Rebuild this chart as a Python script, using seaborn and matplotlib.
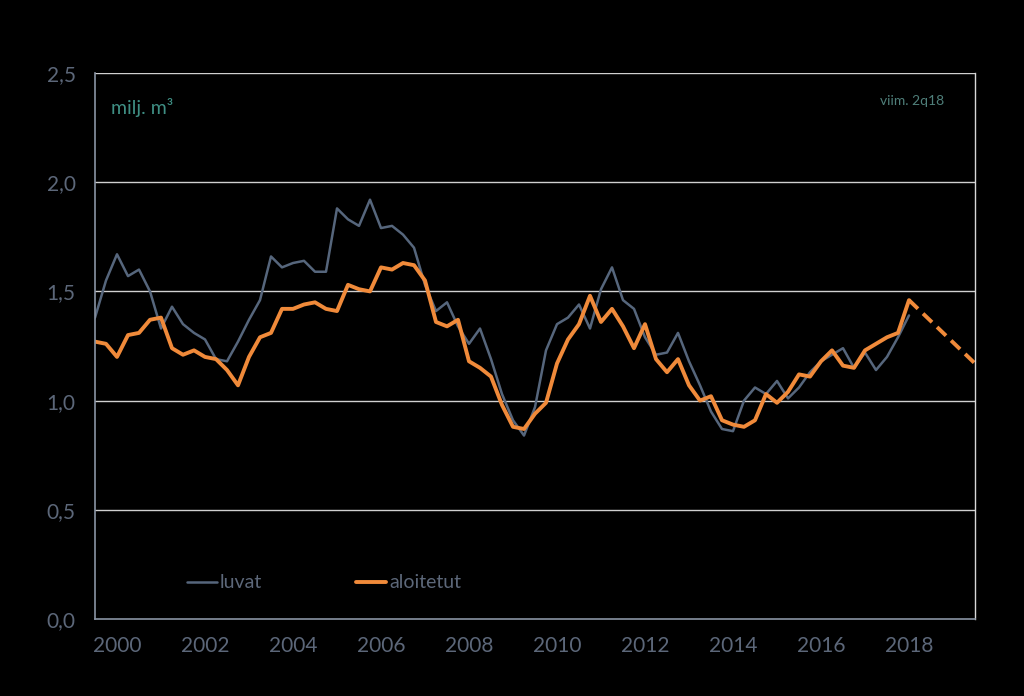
import numpy as np
import pandas as pd
import matplotlib
matplotlib.use("Agg")
import matplotlib.pyplot as plt
import seaborn as sns

# quarterly values, 1q2000 .. 2q2018 (milj. m3)
start_year = 2000
luvat = [1.38, 1.55, 1.67, 1.57, 1.60, 1.50, 1.33, 1.43, 1.35, 1.31,
         1.28, 1.19, 1.18, 1.27, 1.37, 1.46, 1.66, 1.61, 1.63, 1.64,
         1.59, 1.59, 1.88, 1.83, 1.80, 1.92, 1.79, 1.80, 1.76, 1.70,
         1.53, 1.41, 1.45, 1.34, 1.26, 1.33, 1.19, 1.03, 0.91, 0.84,
         0.97, 1.23, 1.35, 1.38, 1.44, 1.33, 1.51, 1.61, 1.46, 1.42,
         1.29, 1.21, 1.22, 1.31, 1.18, 1.07, 0.95, 0.87, 0.86, 1.00,
         1.06, 1.03, 1.09, 1.01, 1.06, 1.13, 1.18, 1.21, 1.24, 1.15,
         1.22, 1.14, 1.20, 1.29, 1.39]
aloitetut = [1.27, 1.26, 1.20, 1.30, 1.31, 1.37, 1.38, 1.24, 1.21, 1.23,
             1.20, 1.19, 1.14, 1.07, 1.20, 1.29, 1.31, 1.42, 1.42, 1.44,
             1.45, 1.42, 1.41, 1.53, 1.51, 1.50, 1.61, 1.60, 1.63, 1.62,
             1.55, 1.36, 1.34, 1.37, 1.18, 1.15, 1.11, 0.98, 0.88, 0.87,
             0.94, 0.99, 1.17, 1.28, 1.35, 1.48, 1.36, 1.42, 1.34, 1.24,
             1.35, 1.19, 1.13, 1.19, 1.07, 1.00, 1.02, 0.91, 0.89, 0.88,
             0.91, 1.03, 0.99, 1.04, 1.12, 1.11, 1.18, 1.23, 1.16, 1.15,
             1.23, 1.26, 1.29, 1.31, 1.46]
# forecast: from 2q18 to end of 2019
ennuste_t = [2018.5, 2020.0]
ennuste = [1.46, 1.17]

year_labels = ["2000", "2002", "2004", "2006", "2008",
               "2010", "2012", "2014", "2016", "2018"]
y_ticks = [0.0, 0.5, 1.0, 1.5, 2.0, 2.5]

t = start_year + 0.25 * np.arange(len(luvat))
df = pd.DataFrame({"t": t, "luvat": luvat, "aloitetut": aloitetut})
df_f = pd.DataFrame({"t": ennuste_t, "v": ennuste})

sns.set_style("dark")
plt.rcParams["font.family"] = ["Lato", "DejaVu Sans"]
plt.rcParams["lines.solid_joinstyle"] = "round"
plt.rcParams["lines.solid_capstyle"] = "round"

grey_line = "#56667c"
orange = "#f08a3a"
txt = "#5c6779"
teal = "#3f8f84"

fig = plt.figure(figsize=(10.24, 6.96), dpi=100, facecolor="black")
ax = fig.add_axes([95 / 1024, 77 / 696, 880 / 1024, 546 / 696])
ax.set_facecolor("black")

sns.lineplot(data=df, x="t", y="luvat", ax=ax, color=grey_line, lw=1.8, label="luvat")
sns.lineplot(data=df, x="t", y="aloitetut", ax=ax, color=orange, lw=2.8, label="aloitetut")
sns.lineplot(data=df_f, x="t", y="v", ax=ax, color=orange, lw=2.8, dashes=False)
ax.lines[-1].set_dashes((3.2, 1.8))

ax.set_xlim(2000, 2020)
ax.set_ylim(0, 2.5)
ax.set_yticks(y_ticks)
ax.set_yticklabels([f"{v:.1f}".replace(".", ",") for v in y_ticks])
ax.grid(False)
for v in y_ticks[1:]:
    ax.axhline(v, color="#d0d0d0", lw=1.0, zorder=0)

ax.set_xticks(np.arange(2000, 2021))
ax.set_xticklabels([])
ax.set_xticks([int(s) + 0.5 for s in year_labels], minor=True)
ax.set_xticklabels(year_labels, minor=True)
ax.tick_params(axis="x", which="major", direction="out", length=6, color="#8a94a4", width=1)
ax.tick_params(axis="x", which="minor", length=0, pad=12, labelsize=15, labelcolor=txt)
ax.tick_params(axis="y", direction="out", length=6, color="#8a94a4", width=1,
               labelsize=15, labelcolor=txt, pad=8)
ax.set_xlabel("")
ax.set_ylabel("")

for s in ["left", "bottom"]:
    ax.spines[s].set_visible(True)
    ax.spines[s].set_color("#8a94a4")
    ax.spines[s].set_linewidth(1.2)
ax.spines["top"].set_visible(False)
ax.spines["right"].set_visible(True)
ax.spines["right"].set_color("#d8d8d8")
ax.spines["right"].set_linewidth(1.0)

ax.text(0.018, 0.955, "milj. m³", transform=ax.transAxes, color=teal,
        fontsize=14, va="top", ha="left")
ax.text(0.965, 0.96, "viim. 2q18", transform=ax.transAxes, color="#4f7f7a",
        fontsize=10, va="top", ha="right")

leg = ax.legend(loc="center left", bbox_to_anchor=(0.104, 0.066), ncol=2, frameon=False,
                fontsize=14, handlelength=1.55, handletextpad=0.15, columnspacing=4.85,
                borderaxespad=0, borderpad=0)
for tx in leg.get_texts():
    tx.set_color(txt)

fig.savefig("out.png", dpi=100, facecolor="black")
